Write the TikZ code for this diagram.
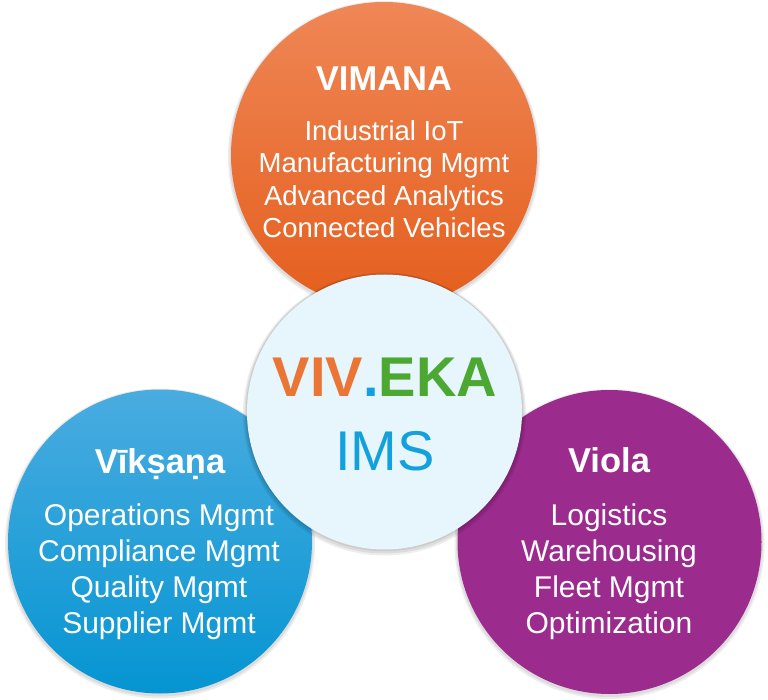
\documentclass[tikz,border=0pt]{standalone}
\usepackage{fontspec}
\setmainfont{Liberation Sans}
\definecolor{orgtop}{HTML}{EF8756}
\definecolor{orgbot}{HTML}{E45E1D}
\definecolor{bluetop}{HTML}{4AACE0}
\definecolor{bluebot}{HTML}{0595D2}
\definecolor{violet}{HTML}{9C2B8E}
\definecolor{hubfill}{HTML}{E7F5FC}
\definecolor{vivorange}{HTML}{EA7535}
\definecolor{ekagreen}{HTML}{4DA832}
\definecolor{imsblue}{HTML}{12A1DC}
\begin{document}
\begin{tikzpicture}[x=1pt,y=-1pt,
  disc/.style={circle, inner sep=0pt, outer sep=0pt, minimum size=#1},
  shade1/.style={circle, inner sep=0pt, minimum size=#1, fill=black, opacity=0.07},
  head/.style={anchor=base, text=white, font=\fontsize{34.5}{34.5}\selectfont\bfseries},
  item/.style={anchor=base, text=white, font=\fontsize{#1}{#1}\selectfont}
]
\useasboundingbox (0,0) rectangle (768,700);

% top (VIMANA)
\node[shade1=312pt] (vs1) at (384,157) {};
\node[shade1=309pt] (vs2) at (384,156.5) {};
\node[disc=306pt, top color=orgtop, bottom color=orgbot] (vimana) at (384,155) {};

% left (Viksana)
\node[shade1=310pt] (ks1) at (160,543.5) {};
\node[shade1=307pt] (ks2) at (160,543) {};
\node[disc=304pt, top color=bluetop, bottom color=bluebot] (viksana) at (160,541.5) {};

% right (Viola)
\node[shade1=310pt] (ls1) at (609.5,544) {};
\node[shade1=307pt] (ls2) at (609.5,543.5) {};
\node[disc=304pt, fill=violet] (viola) at (609.5,542) {};

% centre hub
\node[shade1=283pt] (hs1) at (384.5,414) {};
\node[shade1=280pt] (hs2) at (384.5,413.5) {};
\node[shade1=277.5pt] (hs3) at (384.5,412.5) {};
\node[disc=275pt, fill=hubfill] (hub) at (384.5,412) {};

% texts top
\node[head] (t0) at (384,90.7) {VIMANA};
\node[item=27.5] (t1) at (384,140.5) {Industrial IoT};
\node[item=27.5] (t2) at (384,173) {Manufacturing Mgmt};
\node[item=27.5] (t3) at (384,205.3) {Advanced Analytics};
\node[item=27.5] (t4) at (384,237.5) {Connected Vehicles};

% hub text
\node[anchor=base, font=\fontsize{56}{56}\selectfont\bfseries] (brand) at (385,396.7)
  {\textcolor{vivorange}{VIV}\textcolor{imsblue}{.}\textcolor{ekagreen}{EKA}};
\node[anchor=base, text=imsblue, font=\fontsize{56}{56}\selectfont] (ims) at (385,470) {IMS};

% left texts
\node[head] (l0) at (160,473) {Vīkṣaṇa};
\node[item=30] (l1) at (159,525.7) {Operations Mgmt};
\node[item=30] (l2) at (159,561.7) {Compliance Mgmt};
\node[item=30] (l3) at (159,597) {Quality Mgmt};
\node[item=30] (l4) at (159,633) {Supplier Mgmt};

% right texts
\node[head] (r0) at (609,472) {Viola};
\node[item=30] (r1) at (609,525.7) {Logistics};
\node[item=30] (r2) at (609,561.7) {Warehousing};
\node[item=30] (r3) at (609,597) {Fleet Mgmt};
\node[item=30] (r4) at (609,633) {Optimization};
\end{tikzpicture}
\end{document}
